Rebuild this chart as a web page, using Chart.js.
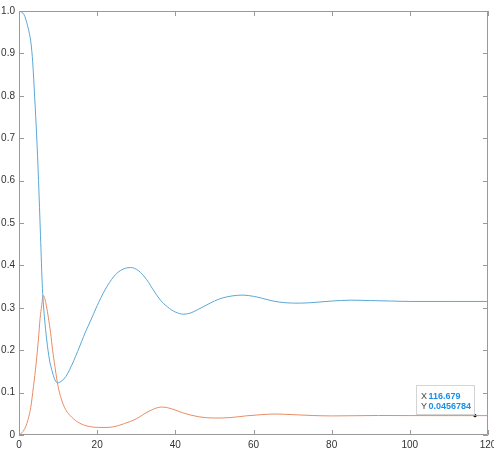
<!DOCTYPE html>
<html>
<head>
<meta charset="utf-8">
<script src="https://cdn.jsdelivr.net/npm/chart.js@4"></script>
<style>
html,body{margin:0;padding:0;background:#fff;}
#wrap{width:494px;height:452px;position:relative;}
</style>
</head>
<body>
<div id="wrap"><canvas id="c"></canvas></div>
<script>
// ---- data ----
const blueT = [0,1,1.5,2,2.65,3.07,3.5,4.05,4.5,5,5.5,6,6.5,7.1,7.8,8.4,9.2,9.9,11,12,13,14,15,16,17,18.2,20,22,24.2,26,28.5,30.5,32.7,34.5,36.2,38,40,42.1,44,46,48.1,50,52,54.5,57.3,60,62,65,68,72,76,80,85,90,95,100,110,120];
const blueY = [1.0,0.995,0.987,0.972,0.947,0.924,0.88,0.79,0.71,0.60,0.47,0.345,0.279,0.224,0.177,0.153,0.13,0.123,0.128,0.138,0.155,0.175,0.197,0.22,0.243,0.267,0.305,0.342,0.373,0.388,0.395,0.388,0.366,0.34,0.318,0.302,0.29,0.285,0.288,0.297,0.307,0.316,0.323,0.328,0.330,0.327,0.323,0.316,0.312,0.311,0.313,0.316,0.318,0.317,0.316,0.315,0.315,0.315];
const orangeT = [0,1,2,3,3.7,4.4,4.95,5.4,5.8,6.2,6.6,7.0,7.5,8.1,8.6,9.2,9.7,10.2,10.9,11.7,12.6,13.5,14.5,15.5,16.5,18,20,22,24,27,30,33,36.5,39,42,46,50,54,58,62,65.5,70,75,80,86,92,100,110,116.679,120];
const orangeY = [0,0.008,0.027,0.065,0.114,0.17,0.224,0.275,0.305,0.329,0.322,0.305,0.278,0.24,0.2,0.161,0.13,0.106,0.083,0.064,0.051,0.042,0.034,0.028,0.024,0.020,0.018,0.0178,0.019,0.027,0.038,0.055,0.066,0.062,0.052,0.043,0.040,0.041,0.045,0.048,0.0495,0.048,0.046,0.045,0.0455,0.046,0.0458,0.0457,0.0456784,0.0457];
const xTicks = [0,20,40,60,80,100,120];
const yTicks = [0,0.1,0.2,0.3,0.4,0.5,0.6,0.7,0.8,0.9,1];
const tipPoint = {x:116.679, y:0.0456784};

const toXY = (t, v) => t.map((x, i) => ({x: x, y: v[i]}));
const AXIS = '#9a9a9a';

const boxTicks = {
  id: 'boxTicks',
  afterDraw(chart) {
    const ctx = chart.ctx, a = chart.chartArea;
    const xs = chart.scales.x, ys = chart.scales.y;
    ctx.save();
    ctx.strokeStyle = AXIS;
    ctx.lineWidth = 1;
    ctx.beginPath();
    ctx.rect(Math.round(a.left) + 0.5, Math.round(a.top) + 0.5, Math.round(a.right - a.left) - 1, Math.round(a.bottom - a.top) - 1);
    ctx.stroke();
    ctx.beginPath();
    xs.ticks.forEach(t => {
      const px = Math.round(xs.getPixelForValue(t.value)) + 0.5;
      ctx.moveTo(px, a.bottom); ctx.lineTo(px, a.bottom - 5);
      ctx.moveTo(px, a.top); ctx.lineTo(px, a.top + 5);
    });
    ys.ticks.forEach(t => {
      const py = Math.round(ys.getPixelForValue(t.value)) + 0.5;
      ctx.moveTo(a.left, py); ctx.lineTo(a.left + 5, py);
      ctx.moveTo(a.right, py); ctx.lineTo(a.right - 5, py);
    });
    ctx.stroke();

    // data tip
    const meta = chart.getDatasetMeta(2);
    const el = meta.data[0];
    const px = el.x, py = el.y;
    const bx = Math.round(px - 59) + 0.5, by = Math.round(py - 31) + 0.5;
    ctx.fillStyle = 'rgba(255,255,255,0.92)';
    ctx.strokeStyle = '#d4d4d4';
    ctx.fillRect(bx, by, 58, 29);
    ctx.strokeRect(bx, by, 58, 29);
    ctx.textBaseline = 'alphabetic';
    ctx.textAlign = 'left';
    ctx.font = '9px "Liberation Sans", Arial, sans-serif';
    ctx.fillStyle = '#444';
    ctx.fillText('X', bx + 4.5, py - 17);
    ctx.fillText('Y', bx + 4.5, py - 7);
    ctx.font = 'bold 9px "Liberation Sans", Arial, sans-serif';
    ctx.fillStyle = '#1a8fe6';
    const d = chart.data.datasets[2].data[0];
    ctx.fillText(Number(d.x.toPrecision(6)).toString(), bx + 12, py - 17);
    ctx.fillText(Number(d.y.toPrecision(6)).toString(), bx + 12, py - 7);
    ctx.restore();
  }
};

new Chart(document.getElementById('c'), {
  type: 'line',
  data: {
    datasets: [
      {data: toXY(blueT, blueY), borderColor: '#5aa8d6', borderWidth: 1, pointRadius: 0, cubicInterpolationMode: 'monotone', fill: false},
      {data: toXY(orangeT, orangeY), borderColor: '#e88c64', borderWidth: 1, pointRadius: 0, cubicInterpolationMode: 'monotone', fill: false},
      {data: [tipPoint], showLine: false, pointRadius: 1.6, pointBackgroundColor: '#000', pointBorderWidth: 0, borderColor: '#000'}
    ]
  },
  options: {
    responsive: true,
    maintainAspectRatio: false,
    animation: false,
    events: [],
    layout: {padding: {top: 11, right: 6, left: 0, bottom: 0}},
    plugins: {legend: {display: false}, tooltip: {enabled: false}},
    scales: {
      x: {
        type: 'linear', min: 0, max: 120,
        afterBuildTicks: s => { s.ticks = xTicks.map(v => ({value: v})); },
        grid: {display: false, drawTicks: false, tickLength: 0},
        border: {display: false},
        ticks: {padding: 4, color: '#333', font: {family: '"Liberation Sans", Arial, sans-serif', size: 10}, maxRotation: 0, autoSkip: false},
        afterFit: s => { s.height = 17; s.paddingLeft = 0; s.paddingRight = 0; }
      },
      y: {
        type: 'linear', min: 0, max: 1,
        afterBuildTicks: s => { s.ticks = yTicks.map(v => ({value: v})); },
        grid: {display: false, drawTicks: false, tickLength: 0},
        border: {display: false},
        ticks: {padding: 4, color: '#333', font: {family: '"Liberation Sans", Arial, sans-serif', size: 10}, autoSkip: false},
        afterFit: s => { s.width = 19; s.paddingTop = 0; s.paddingBottom = 0; }
      }
    }
  },
  plugins: [boxTicks]
});
</script>
</body>
</html>
